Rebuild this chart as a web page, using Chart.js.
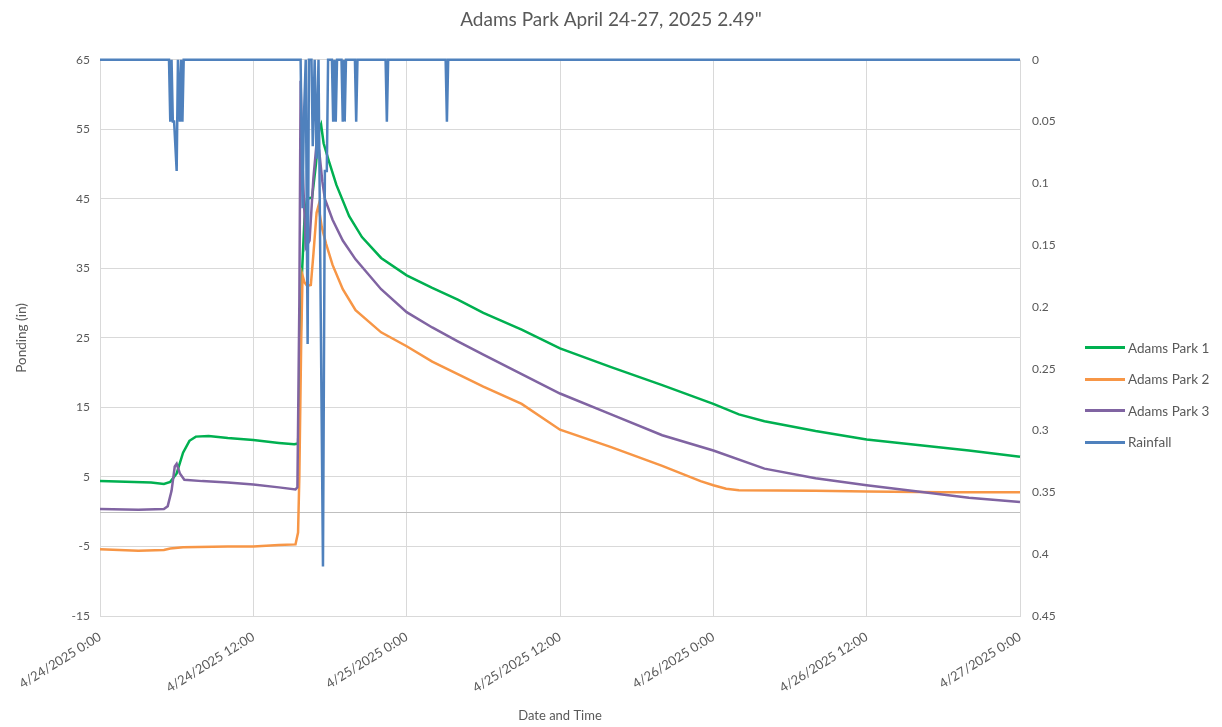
<!DOCTYPE html>
<html><head><meta charset="utf-8">
<script src="https://cdn.jsdelivr.net/npm/chart.js@4/dist/chart.umd.min.js"></script>
<style>
html,body{margin:0;padding:0;background:#fff;}
#wrap{position:relative;width:1222px;height:727px;}
#legend{position:absolute;left:1085px;top:332px;font-family:Lato,'Open Sans',sans-serif;font-size:13.5px;color:#595959;}
.item{display:flex;align-items:center;height:31.5px;white-space:nowrap;}
.sw{width:40px;height:3px;margin-right:3px;}
</style></head><body>
<div id="wrap"><canvas id="c" width="1222" height="727"></canvas><div id="legend"></div></div>
<script>
const chartTitle = 'Adams Park April 24-27, 2025 2.49"';
const xTickLabels = ['4/24/2025 0:00','4/24/2025 12:00','4/25/2025 0:00','4/25/2025 12:00','4/26/2025 0:00','4/26/2025 12:00','4/27/2025 0:00'];
const seriesNames = ['Adams Park 1','Adams Park 2','Adams Park 3','Rainfall'];

// hours since 4/24/2025 0:00
const ap1Hours  = [0,2,4,5,5.5,6,6.5,7,7.5,8.5,10,12,14,15.2,15.5,15.65,15.8,16.0,16.2,16.6,16.9,17.15,17.3,17.5,17.9,18.5,19.5,20.5,22,24,26,28,30,33,36,40,44,48,50,52,56,60,64,68,72];
const ap1Values = [4.4,4.3,4.2,4.0,4.3,5.5,8.5,10.2,10.8,10.9,10.6,10.3,9.9,9.7,9.8,20,34,42,45,45.2,50,55,55.7,53,50.5,47,42.5,39.5,36.5,34.0,32.2,30.5,28.6,26.2,23.5,20.8,18.2,15.5,14.0,13.0,11.6,10.4,9.6,8.8,7.9];

const ap2Hours  = [0,3,5,5.5,6.5,10,12,14,15.3,15.5,15.6,15.75,15.85,16.0,16.2,16.5,16.7,16.95,17.1,17.35,17.7,18.2,19,20,22,24,26,28,30,33,36,40,44,47,48,49,50,56,60,66,72];
const ap2Values = [-5.4,-5.6,-5.5,-5.3,-5.1,-5.0,-5.0,-4.8,-4.7,-3,5,25,34,33,32.5,32.6,37,43,44,41,38.5,35.5,32,29,25.8,23.8,21.6,19.8,18.0,15.5,11.8,9.3,6.6,4.4,3.8,3.3,3.1,3.0,2.9,2.8,2.8];

const ap3Hours  = [0,3,5,5.3,5.6,5.85,6.0,6.25,6.6,8,10,12,14,15.3,15.45,15.6,15.7,15.85,16.1,16.4,16.7,16.95,17.15,17.4,17.6,18.2,19,20,22,24,26,28,30,33,36,40,44,48,52,56,60,64,68,72];
const ap3Values = [0.4,0.3,0.4,0.8,3,6.5,6.9,5.5,4.6,4.4,4.2,3.9,3.5,3.2,3.5,30,62,50,38,39,48,53,52,47.5,45,42,39,36.3,32.0,28.7,26.5,24.5,22.6,19.8,17.0,14.0,11.0,8.8,6.2,4.8,3.8,2.9,2.0,1.4];

const rainHours  = [0,5.4,5.5,5.6,5.7,5.8,6.0,6.1,6.25,6.35,6.45,6.55,15.7,15.85,15.95,16.1,16.25,16.35,16.55,16.65,16.8,16.95,17.1,17.45,17.6,17.75,17.85,18.15,18.25,18.35,18.45,18.55,18.9,19.0,19.1,19.15,19.25,19.95,20.05,20.15,22.35,22.45,22.55,27.05,27.15,27.25,72];
const rainValues = [0,0,0.05,0,0.05,0.05,0.09,0,0.05,0,0.05,0,0,0.12,0.05,0,0.23,0,0,0.07,0,0.08,0,0.41,0.09,0.09,0,0,0.05,0,0.05,0,0,0.05,0,0.05,0,0,0.05,0,0,0.05,0,0,0.05,0,0];

const colors = ['#00b050','#f79646','#8064a2','#4f81bd'];
const pts = (h, v) => h.map((x, i) => ({x, y: v[i]}));

const txt = '#595959';
const fontFam = "Lato, 'Open Sans', sans-serif";

const zeroLine = {
  id: 'zeroLine',
  beforeDatasetsDraw(chart) {
    const y = chart.scales.y.getPixelForValue(0);
    const {left, right} = chart.chartArea;
    const ctx = chart.ctx;
    ctx.save();
    ctx.strokeStyle = '#bfbfbf';
    ctx.lineWidth = 1;
    ctx.beginPath();
    ctx.moveTo(left, Math.round(y) + 0.5);
    ctx.lineTo(right, Math.round(y) + 0.5);
    ctx.stroke();
    ctx.restore();
  }
};

const ds = [
  {label: seriesNames[0], data: pts(ap1Hours, ap1Values), yAxisID: 'y', order: 3},
  {label: seriesNames[1], data: pts(ap2Hours, ap2Values), yAxisID: 'y', order: 2},
  {label: seriesNames[2], data: pts(ap3Hours, ap3Values), yAxisID: 'y', order: 1},
  {label: seriesNames[3], data: pts(rainHours, rainValues), yAxisID: 'y2', order: 0}
].map((d, i) => Object.assign(d, {borderColor: colors[i], backgroundColor: colors[i], borderWidth: 2.5, pointRadius: 0, tension: 0, fill: false, clip: 5}));

new Chart(document.getElementById('c'), {
  type: 'line',
  data: {datasets: ds},
  plugins: [zeroLine],
  options: {
    responsive: false,
    animation: false,
    layout: {padding: 0},
    plugins: {
      legend: {display: false},
      tooltip: {enabled: false},
      title: {display: true, text: chartTitle, color: txt, font: {family: fontFam, size: 19, weight: 'normal'}, padding: {top: 8, bottom: 29}}
    },
    scales: {
      x: {
        type: 'linear', min: 0, max: 72,
        ticks: {stepSize: 12, color: txt, font: {family: fontFam, size: 13}, minRotation: 32, maxRotation: 32, padding: 13,
          callback: (v) => xTickLabels[Math.round(v / 12)]},
        grid: {color: '#d9d9d9', drawTicks: false},
        border: {display: true, color: '#d9d9d9'},
        title: {display: true, text: 'Date and Time', color: txt, font: {family: fontFam, size: 13}, padding: {top: 0, bottom: 3}},
        afterFit: (s) => { s.height = 111; }
      },
      y: {
        position: 'left', min: -15, max: 65,
        ticks: {stepSize: 10, color: txt, font: {family: fontFam, size: 12}, padding: 10},
        grid: {color: '#d9d9d9', drawTicks: false},
        border: {display: false},
        title: {display: true, text: 'Ponding (in)', color: txt, font: {family: fontFam, size: 13.5}, padding: {top: 14, bottom: 0}},
        afterFit: (s) => { s.width = 100; }
      },
      y2: {
        position: 'right', min: 0, max: 0.45, reverse: true,
        ticks: {stepSize: 0.05, color: txt, font: {family: fontFam, size: 12}, padding: 12,
          callback: (v) => String(parseFloat(Number(v).toFixed(2)))},
        grid: {drawOnChartArea: false, drawTicks: false},
        border: {display: false},
        afterFit: (s) => { s.width = 202; }
      }
    }
  }
});

const lg = document.getElementById('legend');
seriesNames.forEach((n, i) => {
  const it = document.createElement('div'); it.className = 'item';
  const sw = document.createElement('div'); sw.className = 'sw'; sw.style.background = colors[i];
  const t = document.createElement('span'); t.textContent = n;
  it.appendChild(sw); it.appendChild(t); lg.appendChild(it);
});
</script>
</body></html>
